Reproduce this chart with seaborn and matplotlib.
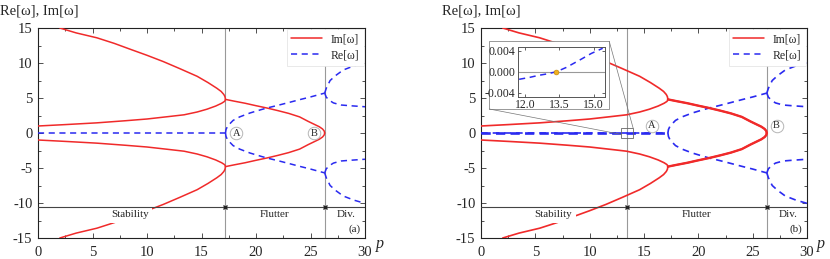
import numpy as np
import pandas as pd
import seaborn as sns
import matplotlib.pyplot as plt
from matplotlib.lines import Line2D
from matplotlib.patches import Rectangle
from matplotlib.ticker import MultipleLocator, FormatStrFormatter

# --- branches (upper halves, the plot is mirrored about 0) ---
# Im[w], high branch of the stable region
p_im_hi = [2.0, 3.5, 5.4, 7.0, 8.4, 10.0, 11.5, 13.0, 14.6, 15.6, 16.4, 16.8, 17.05, 17.15, 17.2]
w_im_hi = [15.0, 14.3, 13.6, 12.8, 12.0, 11.1, 10.2, 9.2, 8.1, 7.2, 6.4, 5.94, 5.5, 5.2, 4.8]
# Im[w], low branch of the stable region
p_im_lo = [0.0, 2.5, 5.4, 8.0, 10.0, 12.0, 13.4, 14.6, 15.5, 16.3, 16.85, 17.1, 17.18, 17.2]
w_im_lo = [1.0, 1.2, 1.45, 1.75, 2.0, 2.35, 2.6, 3.0, 3.4, 3.85, 4.25, 4.5, 4.66, 4.8]
# Im[w] in the flutter region
p_im_fl = [17.2, 18.0, 19.0, 20.0, 21.0, 22.0, 23.0, 24.0, 24.8, 25.4, 25.8, 26.1, 26.25, 26.3]
w_im_fl = [4.8, 4.55, 4.25, 3.9, 3.57, 3.2, 2.8, 2.3, 1.65, 1.2, 0.9, 0.58, 0.3, 0.0]
# Re[w]
p_re_zero = [0.0, 17.2]
w_re_zero = [0.0, 0.0]
p_re_fl = [17.2, 17.25, 17.4, 17.9, 18.5, 19.45, 20.5, 21.0, 22.0, 23.0, 24.0, 25.0, 26.3]
w_re_fl = [0.0, 0.5, 1.0, 1.8, 2.3, 2.86, 3.35, 3.57, 3.95, 4.35, 4.76, 5.15, 5.7]
p_re_up = [26.3, 26.45, 26.8, 27.3, 28.0, 29.0, 30.0]
w_re_up = [5.7, 6.4, 7.5, 8.2, 9.0, 9.6, 10.05]
p_re_dn = [26.3, 26.45, 26.8, 27.1, 27.8, 28.6, 30.0]
w_re_dn = [5.7, 5.1, 4.6, 4.3, 4.0, 3.9, 3.75]

# inset (b): Re[w] near p = 13.4
p_inset = [11.75, 12.2, 12.6, 13.0, 13.38, 13.8, 14.4, 14.9, 15.4]
w_inset = [-0.00146, -0.0011, -0.0007, -0.0004, 0.0, 0.0008, 0.00225, 0.0035, 0.0045]

red = '#f02a2a'
blue = '#2a2af0'

rows = []
def add(name, part, ps, ws, mirror=True):
    for p, w in zip(ps, ws):
        rows.append((name, part, p, w))
    if mirror:
        for p, w in zip(ps, ws):
            rows.append((name + '_neg', part, p, -w))

add('im_hi', 'Im[ω]', p_im_hi, w_im_hi)
add('im_lo', 'Im[ω]', p_im_lo, w_im_lo)
add('im_fl', 'Im[ω]', p_im_fl, w_im_fl)
add('re_zero', 'Re[ω]', p_re_zero, w_re_zero, mirror=False)
add('re_fl', 'Re[ω]', p_re_fl, w_re_fl)
add('re_up', 'Re[ω]', p_re_up, w_re_up)
add('re_dn', 'Re[ω]', p_re_dn, w_re_dn)
df = pd.DataFrame(rows, columns=['branch', 'part', 'p', 'w'])

sns.set_theme(style='ticks')
plt.rcParams['font.family'] = ['Liberation Serif', 'DejaVu Serif']
plt.rcParams['axes.unicode_minus'] = False

fig = plt.figure(figsize=(8.3, 2.59), dpi=100)
axA = fig.add_axes([38 / 830, 21 / 259, 327 / 830, 210 / 259])
axB = fig.add_axes([481 / 830, 21 / 259, 326 / 830, 210 / 259])

panels = [
    (axA, '(a)', [17.2, 26.3], (18.2, 0.0), (25.3, 0.0), [8.45, 21.7, 28.3], 1.1),
    (axB, '(b)', [13.4, 26.3], (15.7, 1.0), (27.2, 1.0), [6.65, 19.85, 28.3], 1.2),
]

for ax, tag, vlines, posA, posB, txt_p, lw in panels:
    sns.lineplot(data=df, x='p', y='w', hue='part', style='part', units='branch',
                 estimator=None, sort=False, ax=ax, legend=False, lw=lw,
                 palette={'Im[ω]': red, 'Re[ω]': blue},
                 dashes={'Im[ω]': '', 'Re[ω]': (4, 3)}, zorder=3)
    if tag == '(b)':
        fl = df[df['branch'].str.startswith('im_fl')]
        for b, g in fl.groupby('branch'):
            ax.plot(g['p'], g['w'], color=red, lw=1.7, zorder=3)
        ax.plot(p_re_zero, w_re_zero, color=blue, lw=1.9, dashes=(3.5, 2), zorder=3)

    for x in vlines:
        ax.axvline(x, color='#999999', lw=0.8, zorder=1)
    ax.axhline(-10.5, color='#444444', lw=0.8, zorder=7)
    ax.plot(vlines, [-10.5] * len(vlines), ls='none', marker='x', ms=2.5, mew=1.0,
            color='#222222', zorder=8)

    for pos, lab in [(posA, 'A'), (posB, 'B')]:
        ax.plot(*pos, marker='o', ms=9, mfc='white', mec='#b5b5b5', mew=0.7, zorder=6)
        ax.text(*pos, lab, ha='center', va='center', fontsize=7.5, zorder=7)

    for x, s in zip(txt_p, ['Stability', 'Flutter', 'Div.']):
        ax.text(x, -11.7, s, ha='center', va='center', fontsize=8, zorder=6,
                bbox=dict(fc='white', ec='none', pad=2.5))
    ax.text(29.6, -13.8, tag, ha='right', va='center', fontsize=8, zorder=6)

    ax.set_xlim(0, 30)
    ax.set_ylim(-15, 15)
    ax.xaxis.set_major_locator(MultipleLocator(5))
    ax.xaxis.set_minor_locator(MultipleLocator(2.5))
    ax.yaxis.set_major_locator(MultipleLocator(5))
    ax.yaxis.set_minor_locator(MultipleLocator(2.5))
    ax.tick_params(which='both', direction='in', top=True, right=True,
                   width=0.6, labelsize=10.5, color='#333333')
    ax.tick_params(axis='x', pad=6)
    ax.tick_params(axis='y', pad=4)
    ax.tick_params(which='major', length=3.5)
    ax.tick_params(which='minor', length=2)
    ax.set_xlabel('')
    ax.set_ylabel('')
    for sp in ax.spines.values():
        sp.set_linewidth(0.8)
        sp.set_color('#222222')

    handles = [Line2D([], [], color=red, lw=1.1),
               Line2D([], [], color=blue, lw=1.1, dashes=(4, 3))]
    leg = ax.legend(handles, ['Im[ω]', 'Re[ω]'], loc='upper right', fontsize=8.5,
                    frameon=True, fancybox=False, framealpha=1, borderaxespad=0.1,
                    handlelength=2.6, borderpad=0.35, labelspacing=0.35)
    leg.get_frame().set_edgecolor('#e0e0e0')
    leg.get_frame().set_linewidth(0.5)
    leg.set_zorder(10)

# ylabels and p labels
fig.text(0.0, 1 - 11 / 259, 'Re[ω], Im[ω]', ha='left', va='center', fontsize=10.5)
fig.text(442 / 830, 1 - 11 / 259, 'Re[ω], Im[ω]', ha='left', va='center', fontsize=10.5)
fig.text(380 / 830, 1 - 244 / 259, 'p', ha='center', va='center', fontsize=11.5, style='italic')
fig.text(821 / 830, 1 - 244 / 259, 'p', ha='center', va='center', fontsize=11.5, style='italic')

# inset frame and zoom box in panel (b)
axB.add_patch(Rectangle((0.76, 3.43), 11.04, 9.67, fc='white', ec='#888888', lw=0.6, zorder=8))
axB.add_patch(Rectangle((12.9, -0.7), 1.1, 1.4, fc='none', ec='#666666', lw=0.6, zorder=8))
axB.plot([11.8, 14.0], [13.1, 0.7], color='#777777', lw=0.5, zorder=8)
axB.plot([0.76, 12.9], [3.43, -0.2], color='#777777', lw=0.5, zorder=8)

axI = fig.add_axes([518 / 830, 1 - 96.7 / 259, 87 / 830, 50 / 259])
sns.lineplot(x=p_inset, y=w_inset, ax=axI, color=blue, lw=1.1,
             estimator=None, sort=False)
axI.lines[0].set_dashes((4, 3))
axI.axhline(0, color='#999999', lw=0.8, zorder=1)
axI.plot([13.38], [0.0], marker='o', ms=3.5, mfc='#f0b020', mec='#c08000', mew=0.4, zorder=5)
axI.set_xlim(11.7, 15.5)
axI.set_ylim(-0.0048, 0.0048)
axI.set_xticks([12.0, 13.5, 15.0])
axI.set_yticks([-0.004, 0.0, 0.004])
axI.xaxis.set_major_formatter(FormatStrFormatter('%.1f'))
axI.yaxis.set_major_formatter(FormatStrFormatter('%.3f'))
axI.tick_params(direction='in', top=True, right=True, length=2.5, width=0.5,
                labelsize=8.5, pad=2)
for sp in axI.spines.values():
    sp.set_linewidth(0.7)
    sp.set_color('#555555')

fig.savefig('out.png', dpi=100)
